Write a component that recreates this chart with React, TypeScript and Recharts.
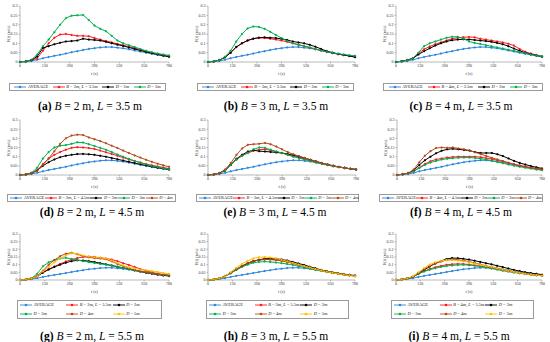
import React from 'react';
import { LineChart, Line, XAxis, YAxis } from 'recharts';

const FONT = '"Liberation Serif", "Times New Roman", serif';

const T = [0, 30, 60, 90, 120, 150, 180, 210, 240, 270, 300, 330, 360, 390, 420, 450, 480, 510, 540, 570, 600, 630, 660, 690, 720, 750, 780];
const X_TICKS = [0, 130, 260, 390, 520, 650, 780];
const Y_TICKS = [0, 0.05, 0.1, 0.15, 0.2, 0.25, 0.3];

const AVERAGE = [0, 0.002, 0.006, 0.012, 0.02, 0.027, 0.033, 0.039, 0.045, 0.052, 0.058, 0.064, 0.07, 0.074, 0.078, 0.08, 0.08, 0.077, 0.073, 0.068, 0.062, 0.056, 0.05, 0.044, 0.039, 0.034, 0.03];

// (a) B = 2 m, L = 3.5 m
const A_B = [0, 0.003, 0.01, 0.02, 0.06, 0.1, 0.13, 0.147, 0.15, 0.145, 0.14, 0.14, 0.138, 0.128, 0.12, 0.112, 0.105, 0.097, 0.09, 0.082, 0.075, 0.066, 0.058, 0.05, 0.044, 0.038, 0.033];
const A_D2 = [0, 0.003, 0.01, 0.03, 0.075, 0.085, 0.095, 0.103, 0.11, 0.112, 0.115, 0.125, 0.12, 0.118, 0.115, 0.108, 0.1, 0.093, 0.086, 0.078, 0.07, 0.062, 0.054, 0.047, 0.04, 0.034, 0.028];
const A_D3 = [0, 0.003, 0.012, 0.04, 0.085, 0.12, 0.16, 0.2, 0.235, 0.248, 0.25, 0.252, 0.225, 0.195, 0.178, 0.165, 0.14, 0.115, 0.1, 0.09, 0.08, 0.07, 0.06, 0.052, 0.045, 0.04, 0.035];

// (b) B = 3 m, L = 3.5 m
const B_B = [0, 0.003, 0.01, 0.025, 0.05, 0.08, 0.1, 0.115, 0.125, 0.13, 0.128, 0.125, 0.12, 0.115, 0.108, 0.1, 0.093, 0.085, 0.077, 0.069, 0.061, 0.054, 0.048, 0.042, 0.037, 0.033, 0.03];
const B_D2 = [0, 0.003, 0.01, 0.025, 0.05, 0.08, 0.1, 0.115, 0.125, 0.13, 0.132, 0.13, 0.128, 0.124, 0.118, 0.11, 0.105, 0.1, 0.092, 0.082, 0.07, 0.058, 0.05, 0.043, 0.037, 0.032, 0.026];
const B_D3 = [0, 0.003, 0.01, 0.028, 0.06, 0.11, 0.15, 0.18, 0.19, 0.188, 0.178, 0.162, 0.145, 0.128, 0.112, 0.1, 0.092, 0.085, 0.078, 0.07, 0.062, 0.055, 0.049, 0.044, 0.04, 0.036, 0.033];

// (c) B = 4 m, L = 3.5 m
const C_B = [0, 0.004, 0.01, 0.02, 0.045, 0.068, 0.083, 0.095, 0.105, 0.115, 0.125, 0.13, 0.133, 0.134, 0.132, 0.125, 0.12, 0.115, 0.11, 0.105, 0.098, 0.088, 0.07, 0.055, 0.045, 0.038, 0.03];
const C_D2 = [0, 0.004, 0.01, 0.02, 0.04, 0.058, 0.073, 0.088, 0.1, 0.11, 0.117, 0.12, 0.122, 0.121, 0.118, 0.115, 0.112, 0.108, 0.102, 0.095, 0.085, 0.072, 0.06, 0.05, 0.042, 0.035, 0.028];
const C_D3 = [0, 0.004, 0.01, 0.02, 0.05, 0.085, 0.1, 0.11, 0.12, 0.13, 0.135, 0.135, 0.125, 0.11, 0.102, 0.097, 0.09, 0.084, 0.078, 0.072, 0.066, 0.06, 0.053, 0.047, 0.04, 0.035, 0.03];

// (d) B = 2 m, L = 4.5 m
const D_B = [0, 0.003, 0.01, 0.025, 0.06, 0.09, 0.11, 0.125, 0.138, 0.148, 0.152, 0.15, 0.147, 0.142, 0.133, 0.124, 0.115, 0.105, 0.095, 0.085, 0.076, 0.068, 0.06, 0.053, 0.047, 0.041, 0.035];
const D_D2 = [0, 0.003, 0.01, 0.025, 0.05, 0.07, 0.085, 0.097, 0.105, 0.11, 0.114, 0.115, 0.113, 0.11, 0.105, 0.1, 0.093, 0.086, 0.079, 0.072, 0.065, 0.058, 0.052, 0.046, 0.04, 0.035, 0.03];
const D_D3 = [0, 0.003, 0.012, 0.04, 0.09, 0.125, 0.15, 0.16, 0.163, 0.17, 0.178, 0.177, 0.168, 0.158, 0.148, 0.138, 0.125, 0.112, 0.1, 0.088, 0.077, 0.067, 0.058, 0.05, 0.043, 0.037, 0.031];
const D_D4 = [0, 0.003, 0.01, 0.025, 0.055, 0.09, 0.13, 0.17, 0.2, 0.215, 0.22, 0.218, 0.205, 0.195, 0.185, 0.173, 0.16, 0.147, 0.133, 0.12, 0.107, 0.095, 0.083, 0.072, 0.062, 0.053, 0.045];

// (e) B = 3 m, L = 4.5 m
const E_B = [0, 0.003, 0.01, 0.025, 0.055, 0.085, 0.105, 0.12, 0.132, 0.138, 0.14, 0.135, 0.127, 0.12, 0.11, 0.102, 0.094, 0.086, 0.078, 0.07, 0.062, 0.055, 0.048, 0.043, 0.038, 0.034, 0.03];
const E_D2 = [0, 0.003, 0.01, 0.025, 0.055, 0.088, 0.11, 0.128, 0.135, 0.13, 0.128, 0.126, 0.123, 0.12, 0.114, 0.108, 0.1, 0.092, 0.083, 0.074, 0.065, 0.057, 0.05, 0.044, 0.039, 0.034, 0.03];
const E_D3 = [0, 0.003, 0.01, 0.025, 0.055, 0.085, 0.105, 0.122, 0.14, 0.15, 0.148, 0.138, 0.128, 0.12, 0.11, 0.1, 0.092, 0.084, 0.076, 0.068, 0.061, 0.054, 0.048, 0.043, 0.038, 0.034, 0.03];
const E_D4 = [0, 0.003, 0.01, 0.03, 0.065, 0.11, 0.145, 0.165, 0.168, 0.17, 0.175, 0.168, 0.155, 0.14, 0.125, 0.113, 0.103, 0.093, 0.083, 0.074, 0.065, 0.057, 0.05, 0.044, 0.039, 0.034, 0.03];

// (f) B = 4 m, L = 4.5 m
const F_B = [0, 0.004, 0.01, 0.02, 0.04, 0.06, 0.075, 0.085, 0.09, 0.095, 0.098, 0.1, 0.1, 0.1, 0.1, 0.097, 0.092, 0.087, 0.08, 0.073, 0.066, 0.058, 0.052, 0.046, 0.04, 0.035, 0.03];
const F_D2 = [0, 0.004, 0.01, 0.025, 0.055, 0.08, 0.1, 0.118, 0.132, 0.14, 0.143, 0.14, 0.137, 0.133, 0.125, 0.12, 0.12, 0.12, 0.113, 0.103, 0.09, 0.077, 0.066, 0.057, 0.049, 0.042, 0.036];
const F_D3 = [0, 0.004, 0.01, 0.02, 0.038, 0.055, 0.068, 0.077, 0.084, 0.089, 0.092, 0.094, 0.095, 0.095, 0.093, 0.089, 0.084, 0.078, 0.071, 0.064, 0.057, 0.051, 0.045, 0.04, 0.035, 0.03, 0.026];
const F_D4 = [0, 0.004, 0.01, 0.03, 0.07, 0.105, 0.13, 0.147, 0.15, 0.148, 0.15, 0.145, 0.14, 0.133, 0.124, 0.114, 0.104, 0.094, 0.085, 0.076, 0.067, 0.058, 0.051, 0.045, 0.04, 0.035, 0.031];

// (g) B = 2 m, L = 5.5 m
const G_B = [0, 0.003, 0.01, 0.025, 0.05, 0.07, 0.088, 0.105, 0.12, 0.133, 0.143, 0.15, 0.152, 0.15, 0.145, 0.14, 0.133, 0.123, 0.11, 0.098, 0.085, 0.072, 0.06, 0.05, 0.042, 0.035, 0.03];
const G_D2 = [0, 0.003, 0.01, 0.025, 0.048, 0.068, 0.085, 0.1, 0.113, 0.123, 0.128, 0.127, 0.123, 0.117, 0.11, 0.102, 0.095, 0.087, 0.079, 0.071, 0.063, 0.055, 0.047, 0.041, 0.035, 0.03, 0.026];
const G_D3 = [0, 0.003, 0.012, 0.04, 0.09, 0.115, 0.13, 0.14, 0.145, 0.137, 0.13, 0.123, 0.117, 0.111, 0.105, 0.1, 0.093, 0.086, 0.079, 0.071, 0.063, 0.056, 0.05, 0.044, 0.039, 0.034, 0.03];
const G_D4 = [0, 0.003, 0.01, 0.028, 0.06, 0.1, 0.13, 0.155, 0.172, 0.177, 0.168, 0.155, 0.148, 0.143, 0.14, 0.135, 0.122, 0.105, 0.09, 0.077, 0.066, 0.057, 0.05, 0.044, 0.039, 0.034, 0.03];
const G_D5 = [0, 0.003, 0.01, 0.025, 0.055, 0.085, 0.115, 0.14, 0.16, 0.175, 0.172, 0.16, 0.153, 0.148, 0.145, 0.14, 0.127, 0.11, 0.094, 0.082, 0.075, 0.069, 0.064, 0.058, 0.052, 0.046, 0.04];

// (h) B = 3 m, L = 5.5 m
const H_B = [0, 0.003, 0.01, 0.025, 0.045, 0.068, 0.09, 0.108, 0.122, 0.13, 0.135, 0.135, 0.132, 0.127, 0.12, 0.111, 0.101, 0.091, 0.081, 0.071, 0.062, 0.054, 0.047, 0.04, 0.034, 0.03, 0.026];
const H_D2 = [0, 0.003, 0.01, 0.025, 0.045, 0.068, 0.09, 0.108, 0.122, 0.132, 0.138, 0.14, 0.138, 0.134, 0.127, 0.118, 0.108, 0.098, 0.087, 0.076, 0.066, 0.057, 0.049, 0.042, 0.036, 0.031, 0.027];
const H_D3 = [0, 0.003, 0.01, 0.025, 0.044, 0.065, 0.085, 0.1, 0.112, 0.118, 0.12, 0.118, 0.114, 0.11, 0.104, 0.098, 0.09, 0.082, 0.074, 0.066, 0.059, 0.052, 0.046, 0.041, 0.036, 0.032, 0.028];
const H_D4 = [0, 0.003, 0.01, 0.025, 0.046, 0.07, 0.092, 0.11, 0.123, 0.13, 0.134, 0.133, 0.13, 0.125, 0.117, 0.108, 0.099, 0.09, 0.081, 0.072, 0.064, 0.056, 0.049, 0.043, 0.037, 0.032, 0.028];
const H_D5 = [0, 0.003, 0.01, 0.025, 0.05, 0.08, 0.105, 0.125, 0.14, 0.148, 0.15, 0.147, 0.14, 0.132, 0.122, 0.112, 0.101, 0.091, 0.081, 0.071, 0.062, 0.054, 0.047, 0.04, 0.034, 0.029, 0.025];

// (i) B = 4 m, L = 5.5 m
const I_B = [0, 0.004, 0.01, 0.02, 0.04, 0.058, 0.072, 0.083, 0.092, 0.099, 0.103, 0.105, 0.104, 0.101, 0.096, 0.09, 0.084, 0.078, 0.071, 0.064, 0.057, 0.051, 0.045, 0.04, 0.035, 0.031, 0.028];
const I_D2 = [0, 0.004, 0.01, 0.02, 0.042, 0.065, 0.088, 0.108, 0.124, 0.137, 0.143, 0.142, 0.138, 0.133, 0.126, 0.118, 0.11, 0.102, 0.093, 0.084, 0.075, 0.066, 0.058, 0.051, 0.045, 0.04, 0.035];
const I_D3 = [0, 0.004, 0.01, 0.02, 0.04, 0.055, 0.067, 0.077, 0.085, 0.091, 0.095, 0.098, 0.099, 0.097, 0.093, 0.088, 0.082, 0.075, 0.068, 0.061, 0.055, 0.049, 0.044, 0.039, 0.035, 0.031, 0.028];
const I_D4 = [0, 0.004, 0.01, 0.022, 0.045, 0.07, 0.092, 0.108, 0.12, 0.13, 0.134, 0.132, 0.127, 0.12, 0.111, 0.102, 0.093, 0.085, 0.077, 0.069, 0.061, 0.054, 0.048, 0.042, 0.037, 0.033, 0.03];
const I_D5 = [0, 0.004, 0.01, 0.025, 0.05, 0.078, 0.1, 0.115, 0.125, 0.13, 0.13, 0.127, 0.122, 0.116, 0.108, 0.1, 0.092, 0.084, 0.076, 0.068, 0.06, 0.053, 0.047, 0.041, 0.036, 0.032, 0.028];

const BLUE = '#2E86DE';
const RED = '#FF1A1A';
const BLACK = '#000000';
const GREEN = '#00B050';
const BROWN = '#B5491A';
const YELLOW = '#FFC000';

type Series = { name: React.ReactNode; color: string; values: number[] };

const bl = (b: string, l: string) => (
  <>
    <i>B</i> = {b}m, <i>L</i> = {l}m
  </>
);
const dl = (d: string) => (
  <>
    <i>D</i> = {d}m
  </>
);

type PanelDef = {
  letter: string;
  b: string;
  l: string;
  px: number;
  py: number;
  pw: number;
  ph: number;
  capX: number;
  capY: number;
  leg: { x: number; y: number; w: number; h: number };
  series: Series[];
};

const PANELS: PanelDef[] = [
  { letter: 'a', b: '2', l: '3.5', px: 20, py: 6, pw: 149, ph: 56, capX: 90, capY: 100, leg: { x: 9, y: 83, w: 157, h: 8 },
    series: [
      { name: 'AVERAGE', color: BLUE, values: AVERAGE },
      { name: bl('2', '3.5'), color: RED, values: A_B },
      { name: dl('2'), color: BLACK, values: A_D2 },
      { name: dl('3'), color: GREEN, values: A_D3 },
    ] },
  { letter: 'b', b: '3', l: '3.5', px: 208, py: 6, pw: 147, ph: 56, capX: 276, capY: 100, leg: { x: 197, y: 83, w: 157, h: 8 },
    series: [
      { name: 'AVERAGE', color: BLUE, values: AVERAGE },
      { name: bl('3', '3.5'), color: RED, values: B_B },
      { name: dl('2'), color: BLACK, values: B_D2 },
      { name: dl('3'), color: GREEN, values: B_D3 },
    ] },
  { letter: 'c', b: '4', l: '3.5', px: 396, py: 6, pw: 146, ph: 56, capX: 461, capY: 100, leg: { x: 383, y: 83, w: 160, h: 8 },
    series: [
      { name: 'AVERAGE', color: BLUE, values: AVERAGE },
      { name: bl('4', '3.5'), color: RED, values: C_B },
      { name: dl('2'), color: BLACK, values: C_D2 },
      { name: dl('3'), color: GREEN, values: C_D3 },
    ] },
  { letter: 'd', b: '2', l: '4.5', px: 20, py: 120, pw: 149, ph: 55, capX: 92, capY: 206, leg: { x: 7, y: 194, w: 169, h: 7.5 },
    series: [
      { name: 'AVERAGE', color: BLUE, values: AVERAGE },
      { name: bl('2', '4.5'), color: RED, values: D_B },
      { name: dl('2'), color: BLACK, values: D_D2 },
      { name: dl('3'), color: GREEN, values: D_D3 },
      { name: dl('4'), color: BROWN, values: D_D4 },
    ] },
  { letter: 'e', b: '3', l: '4.5', px: 208, py: 120, pw: 148, ph: 55, capX: 275, capY: 206, leg: { x: 196, y: 194, w: 163, h: 7.5 },
    series: [
      { name: 'AVERAGE', color: BLUE, values: AVERAGE },
      { name: bl('3', '4.5'), color: RED, values: E_B },
      { name: dl('2'), color: BLACK, values: E_D2 },
      { name: dl('3'), color: GREEN, values: E_D3 },
      { name: dl('4'), color: BROWN, values: E_D4 },
    ] },
  { letter: 'f', b: '4', l: '4.5', px: 397, py: 120, pw: 145, ph: 55, capX: 461, capY: 206, leg: { x: 379, y: 194, w: 164, h: 7.5 },
    series: [
      { name: 'AVERAGE', color: BLUE, values: AVERAGE },
      { name: bl('4', '4.5'), color: RED, values: F_B },
      { name: dl('2'), color: BLACK, values: F_D2 },
      { name: dl('3'), color: GREEN, values: F_D3 },
      { name: dl('4'), color: BROWN, values: F_D4 },
    ] },
  { letter: 'g', b: '2', l: '5.5', px: 20, py: 234, pw: 149, ph: 46, capX: 92, capY: 330, leg: { x: 17, y: 300, w: 145, h: 19 },
    series: [
      { name: 'AVERAGE', color: BLUE, values: AVERAGE },
      { name: bl('2', '5.5'), color: RED, values: G_B },
      { name: dl('2'), color: BLACK, values: G_D2 },
      { name: dl('3'), color: GREEN, values: G_D3 },
      { name: dl('4'), color: BROWN, values: G_D4 },
      { name: dl('5'), color: YELLOW, values: G_D5 },
    ] },
  { letter: 'h', b: '3', l: '5.5', px: 208, py: 234, pw: 147, ph: 46, capX: 276, capY: 330, leg: { x: 206, y: 300, w: 143, h: 19 },
    series: [
      { name: 'AVERAGE', color: BLUE, values: AVERAGE },
      { name: bl('3', '5.5'), color: RED, values: H_B },
      { name: dl('2'), color: BLACK, values: H_D2 },
      { name: dl('3'), color: GREEN, values: H_D3 },
      { name: dl('4'), color: BROWN, values: H_D4 },
      { name: dl('5'), color: YELLOW, values: H_D5 },
    ] },
  { letter: 'i', b: '4', l: '5.5', px: 396, py: 234, pw: 146, ph: 46, capX: 459, capY: 330, leg: { x: 391, y: 300, w: 143, h: 19 },
    series: [
      { name: 'AVERAGE', color: BLUE, values: AVERAGE },
      { name: bl('4', '5.5'), color: RED, values: I_B },
      { name: dl('2'), color: BLACK, values: I_D2 },
      { name: dl('3'), color: GREEN, values: I_D3 },
      { name: dl('4'), color: BROWN, values: I_D4 },
      { name: dl('5'), color: YELLOW, values: I_D5 },
    ] },
];

const LEFT = 22;
const TOP = 4;
const RIGHT = 6;
const XH = 14;

function Marker({ color }: { color: string }) {
  return (
    <svg width={12} height={4} style={{ flex: 'none' }}>
      <line x1={0} y1={2} x2={12} y2={2} stroke={color} strokeWidth={0.9} />
      <circle cx={6} cy={2} r={1.3} fill={color} />
    </svg>
  );
}

function Legend({ p }: { p: PanelDef }) {
  const twoRows = p.series.length > 5;
  return (
    <div
      style={{
        position: 'absolute',
        left: p.leg.x,
        top: p.leg.y,
        width: p.leg.w,
        height: p.leg.h,
        boxSizing: 'border-box',
        border: '0.6px solid #9a9a9a',
        fontFamily: FONT,
        fontSize: 4.4,
        color: '#222',
        display: twoRows ? 'grid' : 'flex',
        gridTemplateColumns: twoRows ? '1fr 1fr 1fr' : undefined,
        gridTemplateRows: twoRows ? '1fr 1fr' : undefined,
        justifyContent: 'space-around',
        alignItems: 'center',
        padding: '0 2px',
        lineHeight: 1,
      }}
    >
      {p.series.map((s, k) => (
        <span key={k} style={{ display: 'inline-flex', alignItems: 'center', whiteSpace: 'nowrap' }}>
          <Marker color={s.color} />
          <span style={{ marginLeft: 1.5 }}>{s.name}</span>
        </span>
      ))}
    </div>
  );
}

function Panel({ p }: { p: PanelDef }) {
  const data = T.map((t, i) => {
    const r: Record<string, number> = { t };
    p.series.forEach((s, k) => {
      r['s' + k] = s.values[i];
    });
    return r;
  });
  const tickStyle = { fontSize: 4, fill: '#333', fontFamily: FONT };
  return (
    <>
      <div style={{ position: 'absolute', left: p.px - LEFT, top: p.py - TOP }}>
        <LineChart
          width={p.pw + LEFT + RIGHT}
          height={p.ph + TOP + XH}
          data={data}
          margin={{ top: TOP, right: RIGHT, left: 0, bottom: 0 }}
        >
          <XAxis
            dataKey="t"
            type="number"
            domain={[0, 780]}
            ticks={X_TICKS}
            interval={0}
            tick={tickStyle}
            tickSize={1.5}
            tickMargin={0.5}
            height={XH}
            stroke="#8c8c8c"
            strokeWidth={0.6}
          />
          <YAxis
            width={LEFT}
            type="number"
            domain={[0, 0.3]}
            ticks={Y_TICKS}
            interval={0}
            tick={tickStyle}
            tickSize={1.5}
            tickMargin={1}
            stroke="#8c8c8c"
            strokeWidth={0.6}
          />
          {p.series.map((s, k) => (
            <Line
              key={k}
              dataKey={'s' + k}
              type="linear"
              stroke={s.color}
              strokeWidth={1}
              dot={{ r: 1, fill: s.color, stroke: s.color, strokeWidth: 0.2 }}
              isAnimationActive={false}
            />
          ))}
        </LineChart>
      </div>
      <div
        style={{
          position: 'absolute',
          left: p.px - 11 - 20,
          top: p.py + p.ph / 2 - 3,
          width: 40,
          height: 6,
          transform: 'rotate(-90deg)',
          fontFamily: FONT,
          fontSize: 4.3,
          lineHeight: '6px',
          textAlign: 'center',
          color: '#333',
          whiteSpace: 'nowrap',
        }}
      >
        <i>V</i>(<i>t</i>) (m/s)
      </div>
      <div
        style={{
          position: 'absolute',
          left: p.px + p.pw / 2 - 20,
          top: p.py + p.ph + 9,
          width: 40,
          fontFamily: FONT,
          fontSize: 4.3,
          lineHeight: '6px',
          textAlign: 'center',
          color: '#333',
        }}
      >
        <i>t</i> (s)
      </div>
      <Legend p={p} />
      <div
        style={{
          position: 'absolute',
          left: p.capX - 80,
          top: p.capY,
          width: 160,
          textAlign: 'center',
          fontFamily: FONT,
          fontSize: 11.5,
          lineHeight: '13px',
          color: '#000',
          whiteSpace: 'nowrap',
        }}
      >
        <b>({p.letter})</b> <i>B</i> = {p.b} m, <i>L</i> = {p.l} m
      </div>
    </>
  );
}

export default function App() {
  return (
    <div
      style={{
        position: 'absolute',
        left: 0,
        top: 0,
        width: 550,
        height: 342,
        background: '#fff',
        overflow: 'hidden',
      }}
    >
      {PANELS.map((p) => (
        <Panel key={p.letter} p={p} />
      ))}
    </div>
  );
}
